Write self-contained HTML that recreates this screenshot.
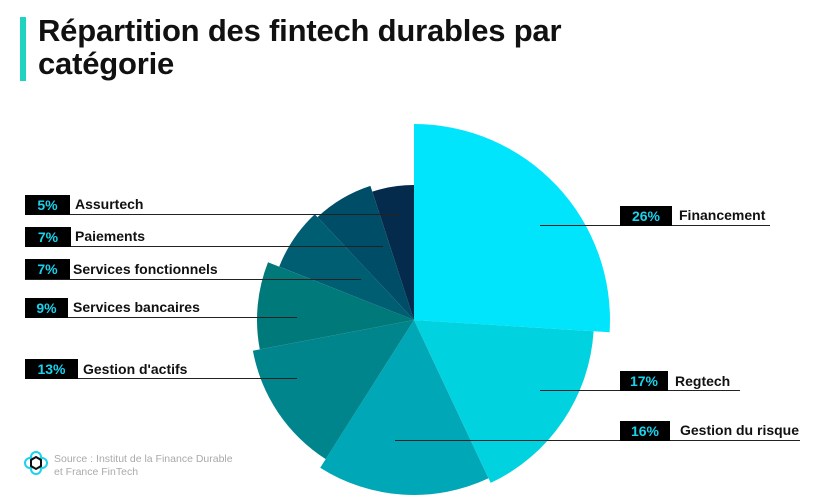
<!DOCTYPE html>
<html><head><meta charset="utf-8"><style>
body{margin:0;width:826px;height:504px;background:#fff;overflow:hidden;font-family:"Liberation Sans",sans-serif;position:relative}
.bar{position:absolute;left:20px;top:17px;width:6px;height:64px;background:#1fd3c0}
h1{position:absolute;left:38px;top:14px;margin:0;font-size:31px;line-height:33px;font-weight:bold;color:#111;letter-spacing:-0.2px}
.b{position:absolute;height:20px;background:#000;color:#19d3ee;font-size:14px;font-weight:bold;line-height:20px;text-align:center}
.t{position:absolute;font-size:14px;font-weight:bold;color:#111;line-height:20px}
.l{position:absolute;height:1px;background:#222}
.src{position:absolute;left:54px;top:453px;font-size:10.5px;color:#aaa;line-height:13px}
</style></head><body>
<div class="bar"></div>
<h1>Répartition des fintech durables par<br>catégorie</h1>
<svg width="826" height="504" style="position:absolute;left:0;top:0">
<g transform="translate(414,320)">
<path d="M0,0 L0,-196 A196,196 0 0 1 195.6,12.2 Z" fill="#00e4fc"/>
<path d="M0,0 L179.6,11.2 A180,180 0 0 1 76.7,162.9 Z" fill="#00d3df"/>
<path d="M0,0 L74.5,158.3 A175,175 0 0 1 -93.8,147.7 Z" fill="#00a7b6"/>
<path d="M0,0 L-88.3,139.1 A164,164 0 0 1 -161.1,30.7 Z" fill="#00858c"/>
<path d="M0,0 L-154.2,29.4 A157,157 0 0 1 -146.0,-57.8 Z" fill="#00797a"/>
<path d="M0,0 L-134.8,-53.4 A145,145 0 0 1 -99.2,-105.8 Z" fill="#005e72"/>
<path d="M0,0 L-96.5,-102.9 A141,141 0 0 1 -43.6,-134.1 Z" fill="#004d67"/>
<path d="M0,0 L-41.7,-128.4 A135,135 0 0 1 0,-135 Z" fill="#042a4c"/>
</g>
<g fill="none">
<circle cx="36" cy="457" r="5" stroke="#19d3ee" stroke-width="2"/>
<circle cx="36" cy="469" r="5" stroke="#19d3ee" stroke-width="2"/>
<circle cx="30" cy="463" r="5" stroke="#19d3ee" stroke-width="2"/>
<circle cx="42" cy="463" r="5" stroke="#19d3ee" stroke-width="2"/>
<polygon points="36,457 41,460 41,466 36,469 31,466 31,460" fill="#fff" stroke="#111" stroke-width="2"/>
</g>
</svg>
<div class="l" style="left:25px;top:214px;width:375px"></div>
<div class="b" style="left:25px;top:195px;width:45px">5%</div><div class="t" style="left:75px;top:194px">Assurtech</div>
<div class="l" style="left:25px;top:246px;width:358px"></div>
<div class="b" style="left:25px;top:227px;width:46px">7%</div><div class="t" style="left:75px;top:226px">Paiements</div>
<div class="l" style="left:25px;top:279px;width:336px"></div>
<div class="b" style="left:25px;top:259px;width:45px">7%</div><div class="t" style="left:73px;top:259px">Services fonctionnels</div>
<div class="l" style="left:25px;top:317px;width:272px"></div>
<div class="b" style="left:25px;top:298px;width:43px">9%</div><div class="t" style="left:73px;top:297px">Services bancaires</div>
<div class="l" style="left:25px;top:378px;width:272px"></div>
<div class="b" style="left:25px;top:359px;width:53px">13%</div><div class="t" style="left:83px;top:359px">Gestion d'actifs</div>
<div class="l" style="left:540px;top:225px;width:230px"></div>
<div class="b" style="left:620px;top:206px;width:52px">26%</div><div class="t" style="left:679px;top:205px">Financement</div>
<div class="l" style="left:540px;top:390px;width:200px"></div>
<div class="b" style="left:620px;top:371px;width:48px">17%</div><div class="t" style="left:675px;top:371px">Regtech</div>
<div class="l" style="left:395px;top:440px;width:405px"></div>
<div class="b" style="left:620px;top:421px;width:50px">16%</div><div class="t" style="left:680px;top:420px">Gestion du risque</div>
<div class="src">Source : Institut de la Finance Durable<br>et France FinTech</div>
</body></html>
